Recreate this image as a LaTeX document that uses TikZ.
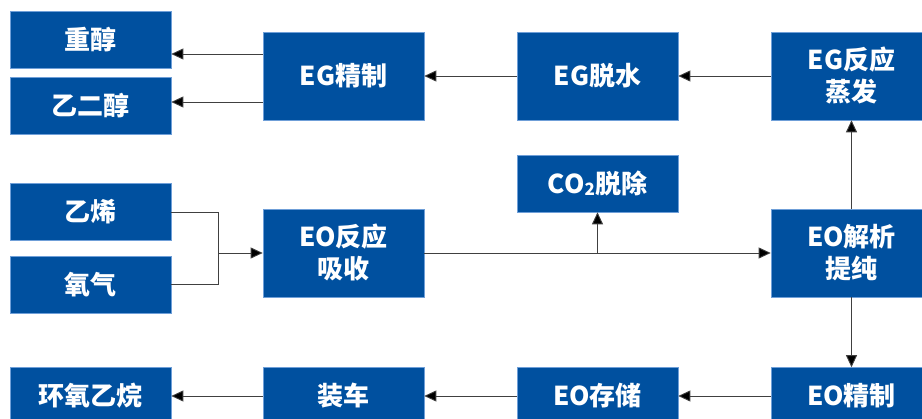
\documentclass[tikz,border=0pt]{standalone}
\usepackage{fontspec}
\setmainfont{Noto Sans CJK SC}
\usetikzlibrary{arrows.meta}
\definecolor{boxblue}{HTML}{00509F}
\definecolor{boxedge}{HTML}{6F9FD8}
\definecolor{lineg}{HTML}{404040}
\begin{document}
\begin{tikzpicture}[x=1pt,y=-1pt,
  box/.style={fill=boxblue,draw=boxedge,line width=0.6pt,text=white,
    font=\fontsize{26pt}{32pt}\selectfont\bfseries,align=center,
    minimum width=161pt,inner sep=0pt},
  sbox/.style={box,minimum height=57pt},
  bbox/.style={box,minimum height=88pt},
  conn/.style={draw=lineg,line width=0.9pt},
  arr/.style={conn,-{Triangle[length=12pt,width=11pt,fill=black]}}]
\useasboundingbox (0,0) rectangle (922,419);
% top row
\node[sbox] (zc) at (90.5,39.5) {重醇};
\node[sbox] (eg) at (90.5,106) {乙二醇};
\node[bbox] (egj) at (343.5,76) {EG精制};
\node[bbox] (egt) at (597.5,76) {EG脱水};
\node[bbox] (egf) at (851.5,76) {EG反应\\蒸发};
% middle row
\node[sbox] (yx) at (90.5,212) {乙烯};
\node[sbox] (yq) at (90.5,284.5) {氧气};
\node[bbox] (eor) at (343.5,253) {EO反应\\吸收};
\node[sbox] (co2) at (597.5,183.5) {CO\raisebox{-2pt}{\fontsize{17pt}{17pt}\selectfont 2}脱除};
\node[bbox] (eoj) at (851.5,253) {EO解析\\提纯};
% bottom row
\node[sbox] (hy) at (90.5,396) {环氧乙烷};
\node[sbox] (zch) at (343.5,396) {装车};
\node[sbox] (eoc) at (597.5,396) {EO存储};
\node[sbox] (eojz) at (851.5,396) {EO精制};
% connectors top
\coordinate (p1) at ([yshift=22pt]egj.west);
\coordinate (p2) at ([yshift=-26pt]egj.west);
\draw[arr] (p1) -- (p1 -| zc.east);
\draw[arr] (p2) -- (p2 -| eg.east);
\draw[arr] (egt) -- (egj);
\draw[arr] (egf) -- (egt);
% feeds
\coordinate (m) at (218,253);
\draw[conn] (yx.east) -| (m);
\draw[conn] (yq.east) -| (m);
\draw[arr] (m) -- (eor.west);
% EO absorption
\draw[arr] (eor) -- (eoj);
\coordinate (b) at (co2.south |- eor.east);
\draw[arr] (b) -- (co2.south);
\draw[arr] (eoj) -- (egf);
\draw[arr] (eoj) -- (eojz);
% bottom
\draw[arr] (eojz) -- (eoc);
\draw[arr] (eoc) -- (zch);
\draw[arr] (zch) -- (hy);
\end{tikzpicture}
\end{document}
